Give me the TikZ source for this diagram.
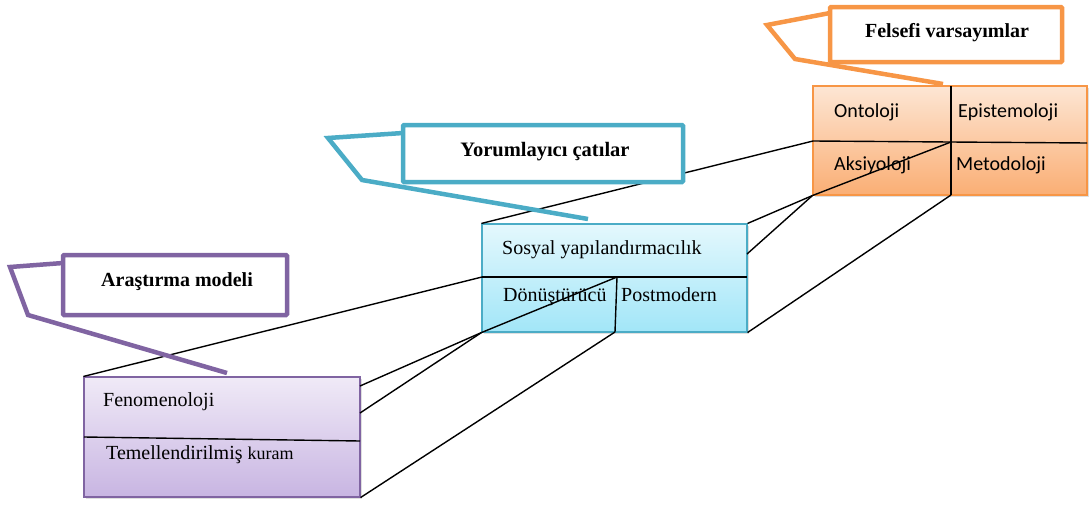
\documentclass[tikz,border=0pt]{standalone}
\usepackage{fontspec}
\setmainfont{Liberation Serif}
\newfontfamily\calib{Carlito}
\usetikzlibrary{shadows}
\definecolor{orng}{HTML}{F79646}
\definecolor{blu}{HTML}{4BACC6}
\definecolor{purp}{HTML}{8064A2}
\definecolor{orngtop}{HTML}{FDE6D4}
\definecolor{orngbot}{HTML}{FAAE74}
\definecolor{blutop}{HTML}{E4F8FD}
\definecolor{blubot}{HTML}{A2E6F8}
\definecolor{purtop}{HTML}{F0EAF7}
\definecolor{purbot}{HTML}{C8B5E2}
\tikzset{
  box/.style={rectangle, inner sep=0pt, line width=1.1pt,
    drop shadow={shadow xshift=1.5pt, shadow yshift=-2pt, opacity=0.25}},
  callbox/.style={rectangle, inner sep=0pt, line width=4.5pt, fill=white, rounded corners=1pt},
  tail/.style={line width=4.5pt},
  conn/.style={line width=1.4pt, black},
  divline/.style={line width=1.4pt, black},
  ttl/.style={font=\bfseries\fontsize{20}{22}\selectfont, anchor=base, inner sep=0pt},
  ser/.style={font=\fontsize{20}{22}\selectfont, anchor=base west, inner sep=0pt},
  sans/.style={font=\calib\fontsize{20}{22}\selectfont, anchor=base west, inner sep=0pt},
}
\begin{document}
\begin{tikzpicture}[x=1pt,y=-1pt]
\useasboundingbox (0,0) rectangle (1090,506);

% main boxes
\node[box, draw=orng, top color=orngtop, bottom color=orngbot,
  minimum width=274pt, minimum height=109pt] (ora) at (950,140.5) {};
\node[box, draw=blu, top color=blutop, bottom color=blubot,
  minimum width=265pt, minimum height=108pt] (sos) at (614.5,278) {};
\node[box, draw=purp, top color=purtop, bottom color=purbot,
  minimum width=276pt, minimum height=120pt] (pur) at (222,437) {};

% division points
\coordinate (oraL) at (813,141);
\coordinate (oraR) at (1087,143);
\coordinate (oraT) at (951,86);
\coordinate (oraB) at (951,195);
\coordinate (oraC) at (951,142);
\coordinate (sosL) at (482,277);
\coordinate (sosR) at (747,277);
\coordinate (sosT) at (617,277);
\coordinate (sosB) at (615,332);
\coordinate (purL) at (84,437);
\coordinate (purR) at (360,441);
\coordinate (sosE) at (747,254);
\coordinate (purE1) at (360,386);
\coordinate (purE2) at (360,413);

\draw[divline] (oraL) -- (oraR);
\draw[divline] (oraT) -- (oraB);
\draw[divline] (sosL) -- (sosR);
\draw[divline] (sosT) -- (sosB);
\draw[divline] (purL) -- (purR);

% connectors
\draw[conn] (sos.north west) -- (oraL);
\draw[conn] (sos.north east) -- (ora.south west);
\draw[conn] (sosE) -- (ora.south west);
\draw[conn] (ora.south west) -- (oraC);
\draw[conn] (sos.south east) -- (oraB);
\draw[conn] (pur.north west) -- (sosL);
\draw[conn] (purE1) -- (sos.south west);
\draw[conn] (purE2) -- (sos.south west);
\draw[conn] (sos.south west) -- (sosT);
\draw[conn] (pur.south east) -- (sosB);

% box texts
\node[sans] (t1) at (834,117) {Ontoloji};
\node[sans] (t2) at (958,117) {Epistemoloji};
\node[sans] (t3) at (834,170) {Aksiyoloji};
\node[sans] (t4) at (956,170) {Metodoloji};
\node[ser] (t5) at (502,254) {Sosyal yapılandırmacılık};
\node[ser] (t6) at (503,301) {Dönüştürücü};
\node[ser] (t7) at (621,301) {Postmodern};
\node[ser] (t8) at (103,406) {Fenomenoloji};
\node[ser] (t9) at (106,459) {Temellendirilmiş {\fontsize{18}{20}\selectfont kuram}};

% callouts
\coordinate (fo1) at (767,25);
\coordinate (fo2) at (795,59);
\coordinate (fo3) at (943,84);
\coordinate (fo0) at (830,13);
\draw[tail, orng] (fo0) -- (fo1) -- (fo2) -- (fo3);
\node[callbox, draw=orng, minimum width=232pt, minimum height=55pt] (cf) at (946,34.5) {};
\node[ttl] (tf) at (947,37) {Felsefi varsayımlar};

\coordinate (yo0) at (403,133);
\coordinate (yo1) at (328,138);
\coordinate (yo2) at (362,180);
\coordinate (yo3) at (588,219);
\draw[tail, blu] (yo0) -- (yo1) -- (yo2) -- (yo3);
\node[callbox, draw=blu, minimum width=280pt, minimum height=57pt] (cy) at (543,153.5) {};
\node[ttl, font=\bfseries\fontsize{20.5}{22}\selectfont] (ty) at (545,156) {Yorumlayıcı çatılar};

\coordinate (ar0) at (63,263);
\coordinate (ar1) at (10,267);
\coordinate (ar2) at (28,315);
\coordinate (ar3) at (227,373);
\draw[tail, purp] (ar0) -- (ar1) -- (ar2) -- (ar3);
\node[callbox, draw=purp, minimum width=224pt, minimum height=60pt] (ca) at (175,285) {};
\node[ttl] (ta) at (177,286) {Araştırma modeli};
\end{tikzpicture}
\end{document}
